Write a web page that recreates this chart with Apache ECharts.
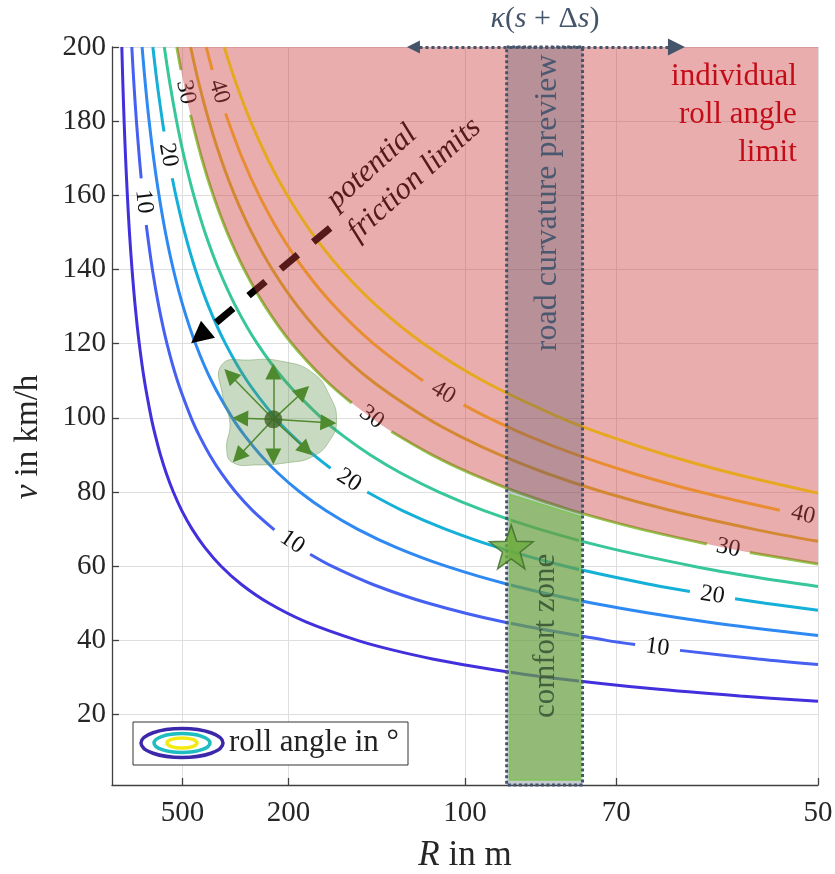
<!DOCTYPE html>
<html>
<head>
<meta charset="utf-8">
<script src="https://cdn.jsdelivr.net/npm/echarts@6/dist/echarts.min.js"></script>
<style>
  html, body { margin: 0; padding: 0; background: #fff; }
  #chart { width: 835px; height: 874px; }
</style>
</head>
<body>
<div id="chart"></div>
<script>
// Iso-lines of the roll angle over road curvature (1/km) and speed (km/h).
const rollLevels = [5, 10, 15, 20, 25, 30, 35, 40, 45];
const radiusTicks = [500, 200, 100, 70, 50];              // curve radius in m
const speedTicks = [20, 40, 60, 80, 100, 120, 140, 160, 180, 200];

// [curvature in 1/km, speed in km/h]; null = gap left for a contour label
const roll5 = [[0.278,200],[0.308,190],[0.343,180],[0.385,170],[0.435,160],[0.494,150],[0.568,140],[0.658,130],[0.772,120],[0.919,110],[1.112,100],[1.233,95],[1.373,90],[1.540,85],[1.738,80],[1.977,75],[2.270,70],[2.633,65],[3.090,60],[3.677,55],[4.449,50],[5.493,45],[6.952,40],[7.910,37.5],[9.080,35],[10.86,32],[12.36,30],[15.26,27],[17.80,25],[20,23.6]];
const roll10 = [[0.561,200],[0.621,190],[0.692,180],[0.776,170],[0.827,164.6],null,[0.970,152.0],[1.144,140],[1.327,130],[1.557,120],[1.853,110],[2.242,100],[2.484,95],[2.768,90],[3.103,85],[3.503,80],[3.985,75],[4.601,69.8],null,[5.613,63.2],[6.227,60],[7.411,55],[8.967,50],[11.07,45],[14.01,40],[14.82,38.9],null,[16.09,37.3],[18.30,35],[20,33.5]];
const roll15 = [[0.852,200],[0.944,190],[1.051,180],[1.179,170],[1.331,160],[1.514,150],[1.738,140],[2.016,130],[2.366,120],[2.816,110],[3.407,100],[3.775,95],[4.206,90],[4.715,85],[5.323,80],[6.056,75],[6.953,70],[8.063,65],[9.463,60],[11.26,55],[13.63,50],[16.82,45],[20,41.3]];
const roll20 = [[1.157,200],[1.282,190],[1.428,180],[1.474,177.2],null,[1.708,164.6],[1.808,160],[2.057,150],[2.361,140],[2.738,130],[3.214,120],[3.824,110],[4.627,100],[5.127,95],[5.713,90],[6.193,86.4],null,[7.230,80],[8.226,75],[9.444,70],[10.95,65],[12.85,60],[15.30,55],[16.37,53.2],null,[17.65,51.2],[18.51,50],[20,48.1]];
const roll25 = [[1.482,200],[1.642,190],[1.830,180],[2.051,170],[2.316,160],[2.635,150],[3.025,140],[3.508,130],[4.117,120],[4.900,110],[5.929,100],[6.569,95],[7.319,90],[8.205,85],[9.263,80],[10.54,75],[12.10,70],[14.03,65],[16.47,60],[18.25,57],[20,54.5]];
const roll30 = [[1.835,200],[1.954,193.8],null,[2.223,181.7],[2.540,170],[2.867,160],[3.262,150],[3.745,140],[4.343,130],[5.097,120],[6.066,110],[6.792,104.0],null,[7.915,96.3],[9.062,90],[10.16,85],[11.47,80],[13.05,75],[14.98,70],[16.85,66.0],null,[18.07,63.7],[20,60.6]];
const roll35 = [[2.226,200],[2.466,190],[2.748,180],[3.080,170],[3.477,160],[3.957,150],[4.542,140],[5.268,130],[6.182,120],[7.357,110],[8.902,100],[9.864,95],[10.99,90],[12.32,85],[13.91,80],[15.83,75],[18.17,70],[20,66.7]];
const roll40 = [[2.667,200],[2.840,193.8],null,[3.217,182.1],[3.692,170],[4.167,160],[4.741,150],[5.443,140],[6.313,130],[7.408,120],[8.810,110],null,[9.959,103.5],[10.67,100],[11.82,95],[13.17,90],[14.77,85],[16.67,80],[18.92,75.1]];
const roll45 = [[3.179,200],[3.522,190],[3.924,180],[4.400,170],[4.966,160],[5.651,150],[6.487,140],[7.523,130],[8.829,120],[10.51,110],[12.71,100],[14.09,95],[15.70,90],[17.60,85],[20,79.7]];
const rollCurves = [roll5, roll10, roll15, roll20, roll25, roll30, roll35, roll40, roll45];

// label centres [curvature, speed] per labelled level
const labels10 = [[0.899,158.3],[5.107,66.5],[15.45,38.1]];
const labels20 = [[1.591,170.9],[6.712,83.2],[17.01,52.2]];
const labels30 = [[2.089,187.8],[7.354,100.2],[17.46,64.9]];
const labels40 = [[3.029,188.0],[9.385,106.8],[19.58,73.85]];

// preview window (curvature range) and comfort zone outline
const previewBand = [11.18, 13.33];
const previewArrow = [[8.54,200],[15.99,200]];
const comfortZone = [[11.27,2.4],[13.26,2.4],[13.26,73.4],[11.27,79.3]];
const operatingPoint = [11.31, 65.2];

// current state with its reachable directions
const blobCenter = [4.57, 99.6];
const blobOutline = [[3.11,114.3],[3.91,115.6],[4.84,115.2],[5.69,112.1],[6.18,105.7],[6.36,99.5],[6.18,94.1],[5.69,89.6],[4.95,87.9],[4.10,87.3],[3.43,87.9],[3.25,91.4],[3.34,98.7],[3.14,105.7]];
const blobArrowHeads = [[3.34,111.6],[4.57,112.5],[5.42,107.1],[6.13,98.7],[5.51,91.4],[4.57,89.6],[3.58,89.6],[3.63,99.9]];
const frictionArrow = [[6.18,151.2],[2.48,122.0]];

// text anchors [curvature, speed]
const frictionTextAnchors = [[6.20,157.7],[6.80,149.1]];
const limitTextAnchor = [19.4, 181.7];
const previewTextAnchor = [12.35, 158];
const comfortTextAnchor = [12.30, 41.2];

const xMin = 0, xMax = 20, yMin = 1, yMax = 200;
const SERIF = '"Liberation Serif", "DejaVu Serif", serif';
const lineColors = ['#4130dc','#4660f2','#2e8af2','#14b0d8','#37c79a','#8fc84c','#d9c02f','#fec82c','#f9f70e'];
const STAR = 'path://M0,-10L2.35,-3.24L9.51,-3.09L3.8,1.24L5.88,8.09L0,4L-5.88,8.09L-3.8,1.24L-9.51,-3.09L-2.35,-3.24Z';

const labelItems = [];
[[10, labels10], [20, labels20], [30, labels30], [40, labels40]].forEach(([lvl, arr]) => {
  arr.forEach(p => labelItems.push([p[0], p[1], lvl]));
});

const series = [];
rollCurves.forEach((pts, i) => {
  series.push({
    type: 'line', name: rollLevels[i] + '°',
    data: pts.map(p => p ? p : ['-', '-']),
    smooth: 0.35, symbol: 'none', connectNulls: false,
    lineStyle: { color: lineColors[i], width: 3 },
    z: 3, silent: true
  });
});

// contour labels along the lines
series.push({
  type: 'custom', z: 4, silent: true,
  data: labelItems.map(it => [it[0], it[1]]),
  renderItem(params, api) {
    const item = labelItems[params.dataIndex];
    const pts = rollCurves[rollLevels.indexOf(item[2])].filter(Boolean);
    let k = pts.findIndex(p => p[0] > item[0]);
    if (k < 0) k = pts.length - 1;
    if (k < 1) k = 1;
    const a = api.coord(pts[k - 1]), b = api.coord(pts[k]);
    const ang = Math.atan2(b[1] - a[1], b[0] - a[0]);
    const c = api.coord([item[0], item[1]]);
    return {
      type: 'text', x: c[0], y: c[1], rotation: -ang,
      style: { text: String(item[2]), fill: '#111', fontSize: 24, fontFamily: SERIF,
               align: 'center', verticalAlign: 'middle' }
    };
  }
});

// friction limit arrow (below the limit shading)
series.push({
  type: 'lines', coordinateSystem: 'cartesian2d', z: 5, silent: true, clip: false,
  data: [{ coords: frictionArrow }],
  symbol: ['none', 'triangle'], symbolSize: [24, 22],
  lineStyle: { color: '#000', width: 7, type: [22, 20], opacity: 1, curveness: 0 }
});

// individual roll angle limit: everything above the 30° line
series.push({
  type: 'line', data: roll30.filter(Boolean), smooth: 0.35, symbol: 'none',
  lineStyle: { width: 0, opacity: 0 },
  areaStyle: { origin: 'end', color: 'rgba(206,60,60,0.42)', opacity: 1 },
  z: 10, silent: true
});

// road curvature preview band
series.push({
  type: 'custom', z: 11, silent: true,
  data: [[previewBand[0], previewBand[1]]],
  renderItem(params, api) {
    const p0 = api.coord([previewBand[0], yMax]);
    const p1 = api.coord([previewBand[1], yMin]);
    return {
      type: 'rect',
      shape: { x: p0[0], y: p0[1], width: p1[0] - p0[0], height: p1[1] - p0[1] },
      style: { fill: 'rgba(68,84,106,0.3)', stroke: '#44546a', lineWidth: 3, lineDash: [3, 2.5] }
    };
  }
});

// comfort zone
series.push({
  type: 'custom', z: 12, silent: true,
  data: [comfortZone[0]],
  renderItem(params, api) {
    return {
      type: 'polygon',
      shape: { points: comfortZone.map(p => api.coord(p)) },
      style: { fill: 'rgba(114,175,60,0.6)', stroke: '#84c45e', lineWidth: 2 }
    };
  }
});

// reachable set around the current state
series.push({
  type: 'custom', z: 8, silent: true,
  data: [blobCenter],
  renderItem(params, api) {
    return {
      type: 'polygon',
      shape: { points: blobOutline.map(p => api.coord(p)), smooth: 0.5 },
      style: { fill: 'rgba(100,150,80,0.35)', stroke: 'rgba(100,150,80,0.45)', lineWidth: 1 }
    };
  }
});
series.push({
  type: 'lines', coordinateSystem: 'cartesian2d', z: 9, silent: true,
  data: blobArrowHeads.map(t => ({ coords: [blobCenter, t] })),
  symbol: ['none', 'triangle'], symbolSize: [14, 16],
  lineStyle: { color: '#4f8a2e', width: 1.5, opacity: 1, curveness: 0 }
});
series.push({
  type: 'scatter', z: 9, silent: true, data: [blobCenter],
  symbolSize: 18, itemStyle: { color: '#3d6526' }
});

// preview arrow on top of the plot
series.push({
  type: 'lines', coordinateSystem: 'cartesian2d', z: 15, silent: true, clip: false,
  data: [{ coords: previewArrow }],
  symbol: ['triangle', 'triangle'], symbolSize: [13, 17],
  lineStyle: { color: '#44546a', width: 3, type: [3, 3], opacity: 1, curveness: 0 }
});

// current operating point
series.push({
  type: 'scatter', z: 13, silent: true, data: [operatingPoint],
  symbol: STAR, symbolSize: 44,
  itemStyle: { color: '#6aab3c', borderColor: '#3d6a28', borderWidth: 1.5 }
});

const axisText = { fontFamily: SERIF, fontSize: 29, color: '#262626' };

const option = {
  animation: false,
  backgroundColor: '#fff',
  grid: { left: 112, right: 17, top: 47, bottom: 89, containLabel: false, outerBoundsMode: 'none' },
  xAxis: {
    type: 'value', min: xMin, max: xMax,
    name: '{i|R} in m', nameLocation: 'middle', nameGap: 53,
    nameTextStyle: { fontFamily: SERIF, fontSize: 35, color: '#262626',
      rich: { i: { fontFamily: SERIF, fontSize: 35, color: '#262626', fontStyle: 'italic' } } },
    axisLine: { show: true, lineStyle: { color: '#404040', width: 1.3 } },
    axisTick: { show: true, inside: true, length: 7, customValues: radiusTicks.map(r => 1000 / r),
      lineStyle: { color: '#404040', width: 1.3 } },
    axisLabel: Object.assign({ margin: 14, customValues: radiusTicks.map(r => 1000 / r),
      formatter: v => String(Math.round(1000 / v)) }, axisText),
    splitLine: { show: true, lineStyle: { color: '#dedede', width: 1 } }
  },
  yAxis: {
    type: 'value', min: yMin, max: yMax,
    axisLine: { show: true, lineStyle: { color: '#404040', width: 1.3 } },
    axisTick: { show: true, inside: true, length: 7, customValues: speedTicks,
      lineStyle: { color: '#404040', width: 1.3 } },
    axisLabel: Object.assign({ margin: 6, customValues: speedTicks }, axisText),
    splitLine: { show: true, lineStyle: { color: '#dedede', width: 1 } }
  },
  series
};

const chart = echarts.init(document.getElementById('chart'), null, { renderer: 'canvas' });
chart.setOption(option);

function px(p) { return chart.convertToPixel({ gridIndex: 0 }, p); }

function overlay() {
  const g = [];
  const rot = 42 * Math.PI / 180;
  ['potential', 'friction limits'].forEach((t, i) => {
    const p = px(frictionTextAnchors[i]);
    g.push({ type: 'text', x: p[0], y: p[1], rotation: rot, z: 5, silent: true,
      style: { text: t, fill: '#000', fontSize: 31, fontStyle: 'italic', fontFamily: SERIF,
               align: 'left', verticalAlign: 'middle' } });
  });
  const lp = px(limitTextAnchor);
  g.push({ type: 'text', x: lp[0], y: lp[1], z: 20, silent: true,
    style: { text: 'individual\nroll angle\nlimit', fill: '#c40c18', fontSize: 31, fontFamily: SERIF,
             lineHeight: 38, align: 'right', verticalAlign: 'middle' } });
  const pp = px(previewTextAnchor);
  g.push({ type: 'text', x: pp[0], y: pp[1], rotation: Math.PI / 2, z: 20, silent: true,
    style: { text: 'road curvature preview', fill: '#4a5870', fontSize: 32, fontFamily: SERIF,
             align: 'center', verticalAlign: 'middle' } });
  const cp = px(comfortTextAnchor);
  g.push({ type: 'text', x: cp[0], y: cp[1], rotation: Math.PI / 2, z: 20, silent: true,
    style: { text: 'comfort zone', fill: '#42603c', fontSize: 31, fontFamily: SERIF,
             align: 'center', verticalAlign: 'middle' } });
  const ap = px([(previewArrow[0][0] + previewArrow[1][0]) / 2, yMax]);
  const it = { fontFamily: SERIF, fontSize: 30, fill: '#44546a', fontStyle: 'italic' };
  g.push({ type: 'text', x: ap[0], y: ap[1] - 28, z: 20, silent: true,
    style: { text: '{i|κ}({i|s} + Δ{i|s})', fill: '#44546a', fontSize: 30, fontFamily: SERIF,
             align: 'center', verticalAlign: 'middle', rich: { i: it } } });
  // vertical axis title
  g.push({ type: 'text', x: 28, y: 437, rotation: Math.PI / 2, z: 20, silent: true,
    style: { text: '{i|v} in km/h', fill: '#262626', fontSize: 33, fontFamily: SERIF,
             align: 'center', verticalAlign: 'middle',
             rich: { i: { fontFamily: SERIF, fontSize: 33, fill: '#262626', fontStyle: 'italic' } } } });
  // legend box
  g.push({ type: 'rect', z: 20, silent: true, shape: { x: 133, y: 722, width: 275, height: 43 },
    style: { fill: '#fff', stroke: '#333', lineWidth: 1 } });
  [[41, 14.5, '#3c28aa'], [28, 9.5, '#1fbcc0'], [15, 5, '#f3ea12']].forEach(e => {
    g.push({ type: 'ellipse', z: 21, silent: true, shape: { cx: 182, cy: 743, rx: e[0], ry: e[1] },
      style: { fill: 'none', stroke: e[2], lineWidth: 3.5 } });
  });
  g.push({ type: 'text', x: 229, y: 743, z: 21, silent: true,
    style: { text: 'roll angle in °', fill: '#222', fontSize: 31, fontFamily: SERIF,
             align: 'left', verticalAlign: 'middle' } });
  return g;
}
chart.setOption({ graphic: overlay() });
</script>
</body>
</html>
